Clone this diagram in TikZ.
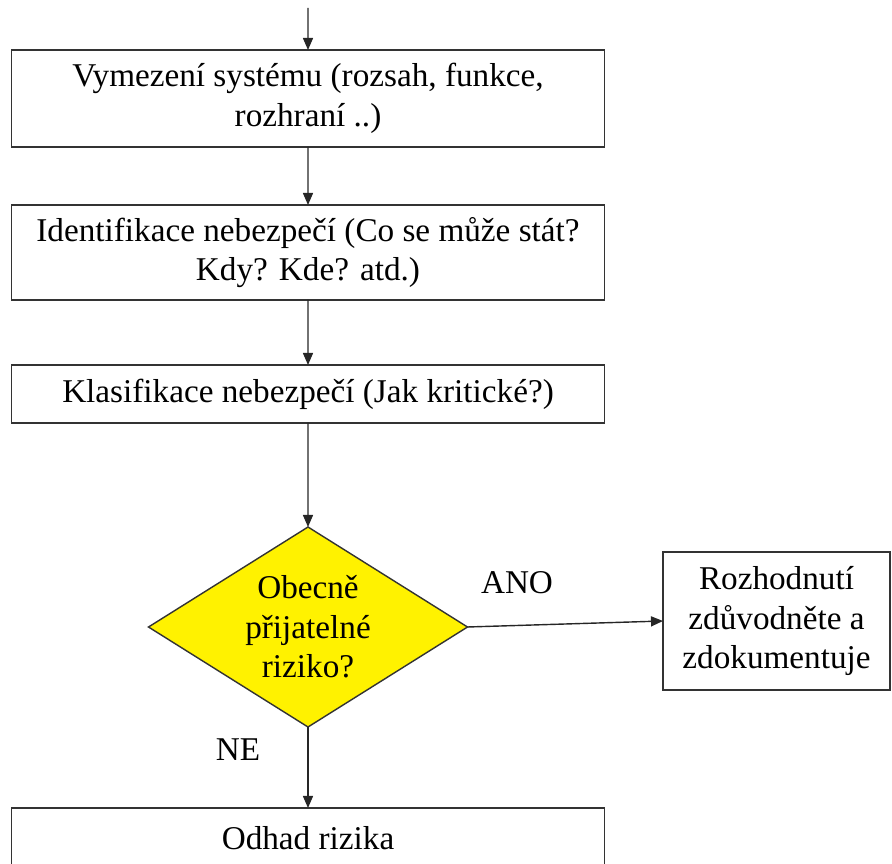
\documentclass[tikz,border=0pt]{standalone}
\usepackage{fontspec}
\setmainfont{Liberation Serif}
\usetikzlibrary{shapes.geometric,arrows.meta}
\begin{document}
\begin{tikzpicture}
  [scale=0.2,
  font=\fontsize{18.9}{22.4}\selectfont,
  procbox/.style={rectangle,draw=black!80,line width=0.8pt,align=center,
                  outer sep=0,minimum width=11.86cm},
  decide/.style={diamond,draw=black!80,fill=yellow,line width=0.8pt,align=center,
                  outer sep=0,inner sep=0pt,shape aspect=1.6,
                  minimum width=6.38cm,minimum height=4cm},
  outbox/.style={rectangle,draw=black!80,line width=0.8pt,align=center,
                  outer sep=0,minimum width=4.54cm,minimum height=2.76cm},
  flow/.style={draw=black!85,line width=0.8pt,
                  -{Triangle[length=0.24cm,width=0.2cm]}}
                  ]
  \clip (0,0) rectangle (89.2,-86.3);
  \coordinate (start) at (30.8,-0.8);
  \node[procbox,minimum height=1.94cm] (vymez) at (30.8,-9.85)
    {Vymezení systému (rozsah, funkce,\\rozhraní ..)};
  \node[procbox,minimum height=1.9cm] (ident) at (30.8,-25.25)
    {Identifikace nebezpečí (Co se může stát?\\Kdy? Kde? atd.)};
  \node[procbox,minimum height=1.16cm] (klas) at (30.8,-39.4)
    {Klasifikace nebezpečí (Jak kritické?)};
  \node[decide] (prij) at (30.8,-62.7) {Obecně\\přijatelné\\riziko?};
  \node[outbox] (rozh) at (77.65,-62.1) {Rozhodnutí\\zdůvodněte a\\zdokumentuje};
  \node[procbox,minimum height=1.9cm,anchor=north] (odhad) at (30.8,-80.8) {};
  \node (odhadt) at (30.8,-83.8) {Odhad rizika};
  \node (ano) at (51.7,-58.3) {ANO};
  \node (ne) at (23.8,-75.0) {NE};
  \draw[flow] (start) to (vymez);
  \draw[flow] (vymez) to (ident);
  \draw[flow] (ident) to (klas);
  \draw[flow] (klas) to (prij);
  \draw[flow] (prij.east) to (rozh.west);
  \draw[flow] (prij.south) to (odhad.north);
\end{tikzpicture}
\end{document}
